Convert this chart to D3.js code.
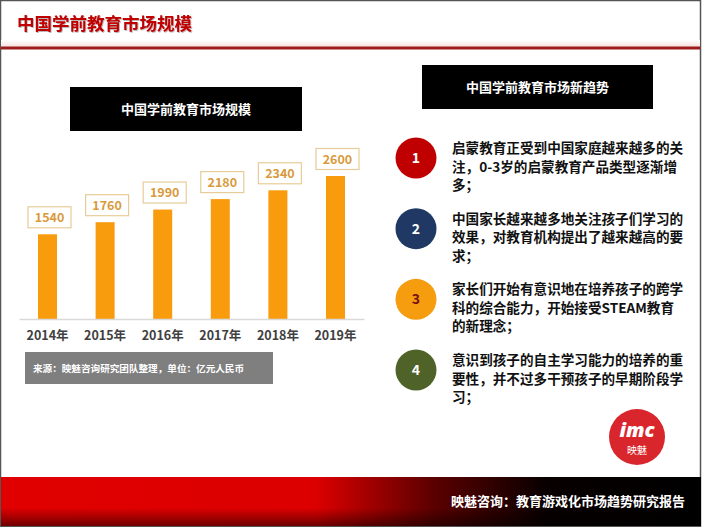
<!DOCTYPE html>
<html>
<head>
<meta charset="utf-8">
<script src="https://cdn.jsdelivr.net/npm/d3@7"></script>
<style>
  html, body { margin: 0; padding: 0; background: #fff; }
  svg { display: block; font-family: "Noto Sans CJK SC", "Noto Sans", sans-serif; }
</style>
</head>
<body>
<svg id="chart"></svg>
<script>
const years = ["2014年", "2015年", "2016年", "2017年", "2018年", "2019年"]
const marketSize = [1540, 1760, 1990, 2180, 2340, 2600]

const trendNumbers = ["1", "2", "3", "4"]
const trendLines = [
  ["启蒙教育正受到中国家庭越来越多的关", "注，0-3岁的启蒙教育产品类型逐渐增", "多；"],
  ["中国家长越来越多地关注孩子们学习的", "效果，对教育机构提出了越来越高的要", "求；"],
  ["家长们开始有意识地在培养孩子的跨学", "科的综合能力，开始接受STEAM教育", "的新理念；"],
  ["意识到孩子的自主学习能力的培养的重", "要性，并不过多干预孩子的早期阶段学", "习；"]
]
const circleColors = ["#c00000", "#1f3864", "#f59d0e", "#4f6228"]
const numberColors = ["#fff", "#fff", "#7b1010", "#fff"]

const W = 702, H = 527
const svg = d3.select("#chart").attr("width", W).attr("height", H)

const defs = svg.append("defs")
const bannerGrad = defs.append("linearGradient").attr("id", "banner")
bannerGrad.append("stop").attr("offset", "0%").attr("stop-color", "#e00000")
bannerGrad.append("stop").attr("offset", "45%").attr("stop-color", "#dc0000")
bannerGrad.append("stop").attr("offset", "62%").attr("stop-color", "#5a0000")
bannerGrad.append("stop").attr("offset", "78%").attr("stop-color", "#080000")
bannerGrad.append("stop").attr("offset", "100%").attr("stop-color", "#000")
const shadeGrad = defs.append("linearGradient").attr("id", "shade").attr("x1", 0).attr("y1", 0).attr("x2", 0).attr("y2", 1)
shadeGrad.append("stop").attr("offset", "0%").attr("stop-color", "#000").attr("stop-opacity", 0)
shadeGrad.append("stop").attr("offset", "100%").attr("stop-color", "#000").attr("stop-opacity", 0.5)
const lineShade = defs.append("linearGradient").attr("id", "lineshade").attr("x1", 0).attr("y1", 0).attr("x2", 0).attr("y2", 1)
lineShade.append("stop").attr("offset", "0%").attr("stop-color", "#fff")
lineShade.append("stop").attr("offset", "100%").attr("stop-color", "#f6dede")
const titleShadow = defs.append("filter").attr("id", "tshadow")
titleShadow.append("feDropShadow").attr("dx", 0.8).attr("dy", 0.8).attr("stdDeviation", 0.6)
  .attr("flood-color", "#000").attr("flood-opacity", 0.35)

// page frame
svg.append("rect").attr("x", 0.5).attr("y", 0.5).attr("width", W - 2).attr("height", H - 1)
  .attr("fill", "#fff").attr("stroke", "#555").attr("stroke-width", 1.5)

// header
svg.append("rect").attr("x", 1).attr("y", 40).attr("width", W - 3).attr("height", 7).attr("fill", "url(#lineshade)")
svg.append("rect").attr("x", 1).attr("y", 46.5).attr("width", W - 3).attr("height", 3).attr("fill", "#9e1a1a")
svg.append("text").attr("x", 17).attr("y", 30)
  .attr("font-size", 17.5).attr("font-weight", 700).attr("fill", "#c00000")
  .attr("filter", "url(#tshadow)")
  .text("中国学前教育市场规模")

// left title box
svg.append("rect").attr("x", 70).attr("y", 87).attr("width", 232).attr("height", 44).attr("fill", "#000")
svg.append("text").attr("x", 186).attr("y", 114).attr("text-anchor", "middle")
  .attr("font-size", 13).attr("font-weight", 700).attr("fill", "#fff")
  .text("中国学前教育市场规模")

// bar chart
const x = d3.scaleBand().domain(years).range([19, 364]).paddingInner(0.67).paddingOuter(0.33)
const y = d3.scaleLinear().domain([0, 2600]).range([319, 176])

const g = svg.append("g")
g.selectAll(".bar").data(marketSize).enter().append("rect")
  .attr("class", "bar")
  .attr("x", (d, i) => x(years[i]))
  .attr("y", d => y(d))
  .attr("width", x.bandwidth())
  .attr("height", d => y(0) - y(d))
  .attr("fill", "#f89c0e")

const labels = g.selectAll(".lbl").data(marketSize).enter().append("g")
  .attr("class", "lbl")
  .attr("transform", (d, i) => `translate(${x(years[i]) + x.bandwidth() / 2 + 2},${y(d) - 17})`)
labels.append("rect").attr("x", -21.5).attr("y", -10.5).attr("width", 43).attr("height", 21)
  .attr("fill", "#fff").attr("stroke", "#e6cc98").attr("stroke-width", 1.2)
labels.append("text").attr("text-anchor", "middle").attr("dy", "0.36em")
  .attr("font-size", 12.5).attr("font-weight", 700).attr("fill", "#d89a3c")
  .text(d => d)

const xAxis = g.append("g").attr("transform", `translate(0,${y(0)})`)
  .call(d3.axisBottom(x).tickSize(0).tickPadding(12))
xAxis.select(".domain").attr("stroke", "#d9d9d9").attr("stroke-width", 1.5)
xAxis.selectAll("text").attr("font-size", 12.5).attr("font-weight", 700).attr("fill", "#404040")
  .attr("font-family", "'Noto Sans CJK SC', sans-serif")

// source box
svg.append("rect").attr("x", 25).attr("y", 352).attr("width", 248).attr("height", 32).attr("fill", "#7f7f7f")
svg.append("text").attr("x", 33).attr("y", 371.5)
  .attr("font-size", 9.6).attr("font-weight", 700).attr("fill", "#fff")
  .text("来源：映魅咨询研究团队整理，单位：亿元人民币")

// right title box
svg.append("rect").attr("x", 422).attr("y", 65).attr("width", 231).attr("height", 44).attr("fill", "#000")
svg.append("text").attr("x", 537.5).attr("y", 92).attr("text-anchor", "middle")
  .attr("font-size", 13).attr("font-weight", 700).attr("fill", "#fff")
  .text("中国学前教育市场新趋势")

// trend items
const itemY = d3.scalePoint().domain(trendNumbers).range([158, 370])
const items = svg.selectAll(".item").data(trendNumbers).enter().append("g")
  .attr("class", "item")
  .attr("transform", d => `translate(0,${itemY(d)})`)
items.append("circle").attr("cx", 416).attr("r", 20.5)
  .attr("fill", (d, i) => circleColors[i])
items.append("text").attr("x", 416).attr("dy", "0.36em").attr("text-anchor", "middle")
  .attr("font-size", 14).attr("font-weight", 700).attr("fill", (d, i) => numberColors[i])
  .text(d => d)
items.each(function (d, i) {
  const t = d3.select(this).append("text")
    .attr("font-size", 13.6).attr("font-weight", 700).attr("fill", "#111")
  trendLines[i].forEach((line, k) => {
    t.append("tspan").attr("x", 452).attr("y", -5 + k * 18.5).text(line)
  })
})

// logo
svg.append("circle").attr("cx", 637).attr("cy", 437).attr("r", 28).attr("fill", "#d9262c")
svg.append("text").attr("x", 637).attr("y", 437).attr("text-anchor", "middle")
  .attr("font-family", "'Open Sans', sans-serif").attr("font-style", "italic")
  .attr("font-size", 20).attr("font-weight", 800).attr("fill", "#fff")
  .text("imc")
svg.append("text").attr("x", 637).attr("y", 454).attr("text-anchor", "middle")
  .attr("font-size", 10).attr("fill", "#fff")
  .text("映魅")

// bottom banner
svg.append("rect").attr("x", 1).attr("y", 477).attr("width", W - 2).attr("height", 49).attr("fill", "url(#banner)")
svg.append("rect").attr("x", 1).attr("y", 508).attr("width", W - 2).attr("height", 18).attr("fill", "url(#shade)")
svg.append("text").attr("x", 685).attr("y", 506).attr("text-anchor", "end")
  .attr("font-size", 13).attr("font-weight", 700).attr("fill", "#fff")
  .text("映魅咨询：教育游戏化市场趋势研究报告")
</script>
</body>
</html>
